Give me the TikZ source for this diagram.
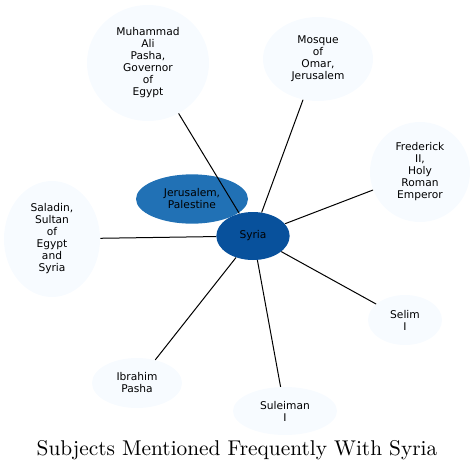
\documentclass[tikz,border=0pt]{standalone}
\usepackage{fontspec}
\newfontfamily\nodefont{DejaVu Sans}
\newfontfamily\titlefont{lmroman10-regular.otf}
\usepackage{xcolor}
\usetikzlibrary{shapes.geometric}

\definecolor{hubblue}{HTML}{08519C}
\definecolor{midblue}{HTML}{2171B5}
\definecolor{paleblue}{HTML}{F7FBFF}

\begin{document}
\begin{tikzpicture}[
  x=0.75pt, y=-0.75pt,
  every node/.style={align=center},
  subj/.style={ellipse, fill=paleblue, inner sep=0pt, font=\nodefont\fontsize{8}{9}\selectfont},
  hub/.style={ellipse, fill=hubblue, inner sep=0pt, minimum width=55pt, minimum height=36pt, font=\nodefont\fontsize{8}{9}\selectfont},
  near/.style={ellipse, fill=midblue, inner sep=0pt, minimum width=84pt, minimum height=37pt, font=\nodefont\fontsize{8}{9}\selectfont},
  link/.style={line width=0.75pt}
]
  \useasboundingbox (0,0) rectangle (475,472);

  % nodes
  \node[subj, minimum width=91.5pt, minimum height=87pt] (muhammad) at (148,63) {Muhammad\\Ali\\Pasha,\\Governor\\of\\Egypt};
  \node[subj, minimum width=82.5pt, minimum height=63pt] (mosque) at (318,59) {Mosque\\of\\Omar,\\Jerusalem};
  \node[subj, minimum width=75pt, minimum height=75pt] (frederick) at (420,172) {Frederick\\II,\\Holy\\Roman\\Emperor};
  \node[subj, minimum width=72pt, minimum height=87pt] (saladin) at (52,239) {Saladin,\\Sultan\\of\\Egypt\\and\\Syria};
  \node[subj, minimum width=55.5pt, minimum height=37.5pt] (selim) at (405,320) {Selim\\I};
  \node[subj, minimum width=78pt, minimum height=36pt] (suleiman) at (285,411) {Suleiman\\I};
  \node[subj, minimum width=67.5pt, minimum height=37.5pt] (ibrahim) at (137,383) {Ibrahim\\Pasha};
  \node[near] (jerusalem) at (192,199) {Jerusalem,\\Palestine};
  \node[hub] (syria) at (253,236) {Syria};

  % links
  \draw[link] (muhammad) -- (syria);
  \draw[link] (mosque) -- (syria);
  \draw[link] (frederick) -- (syria);
  \draw[link] (saladin) -- (syria);
  \draw[link] (selim) -- (syria);
  \draw[link] (suleiman) -- (syria);
  \draw[link] (ibrahim) -- (syria);

  \node[font=\titlefont\fontsize{16}{19}\selectfont] (title) at (237,450) {Subjects Mentioned Frequently With Syria};
\end{tikzpicture}
\end{document}
